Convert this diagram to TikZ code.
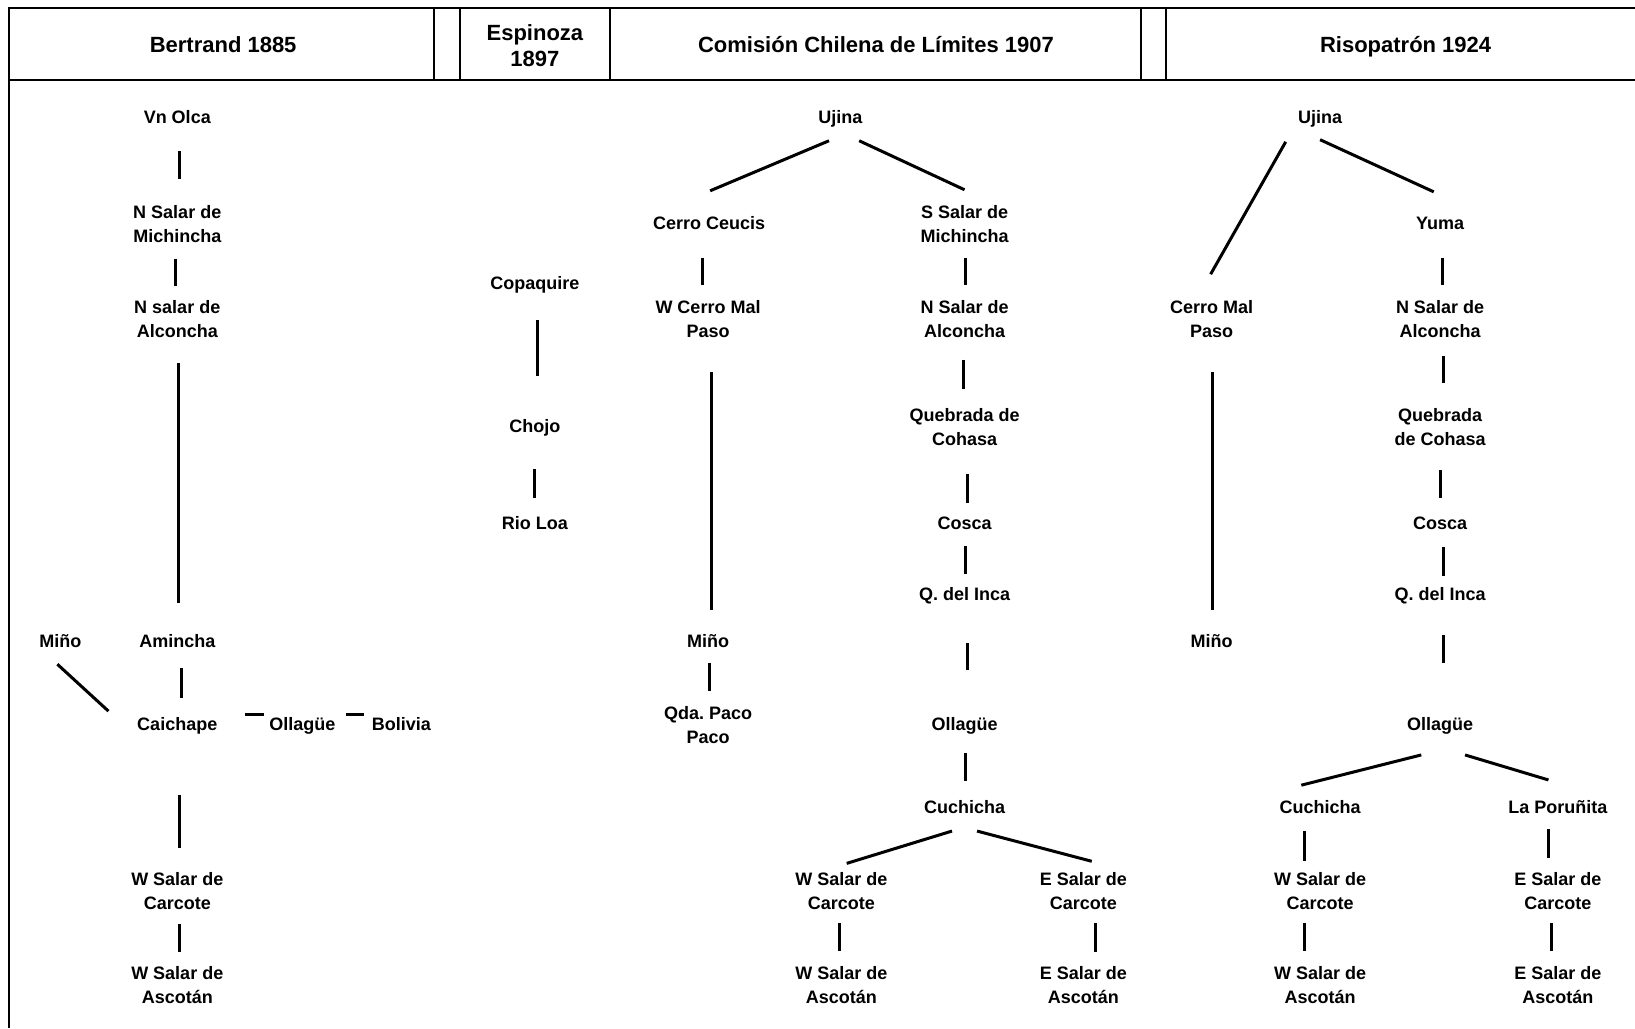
\documentclass[tikz,border=0pt]{standalone}
\usepackage{fontspec}
\setmainfont{Liberation Sans}
\usetikzlibrary{calc}
\frenchspacing

\tikzset{
  place/.style={font=\bfseries\fontsize{9}{12}\selectfont, align=center, inner sep=0pt},
  one/.style={place, text height=6.45pt, text depth=0pt},
  head/.style={font=\bfseries\fontsize{11}{13}\selectfont, align=center, inner sep=0pt},
  headone/.style={head, text height=7.9pt, text depth=0pt},
  link/.style={line width=1.5pt},
  frame/.style={line width=1pt}
}

\begin{document}
\begin{tikzpicture}[x=0.52136pt, y=-0.52136pt]
  \useasboundingbox (0,0) rectangle (1568,986);
  % frame and header
  \draw[frame] (1568,8) -- (9,8) -- (9,986);
  \draw[frame] (9,77) -- (1568,77);
  \foreach \xs in {416,441,585,1094,1118}
    \draw[frame] (\xs,8) -- (\xs,77);
  \node[headone] (hbert) at (214,43) {Bertrand 1885};
  \node[head] (hesp) at (513,44) {Espinoza\\1897};
  \node[headone] (hcom) at (840,43) {Comisión Chilena de Límites 1907};
  \node[headone] (hris) at (1348,43) {Risopatrón 1924};

  % Bertrand 1885
  \node[one] (bvn) at (170,112) {Vn Olca};
  \node[place] (bnmich) at (170,215) {N Salar de\\Michincha};
  \node[place] (bnalc) at (170,306) {N salar de\\Alconcha};
  \node[one] (bamin) at (170,615) {Amincha};
  \node[one] (bmino) at (58,615) {Miño};
  \node[one] (bcaich) at (170,694) {Caichape};
  \node[one] (boll) at (290,694) {Ollagüe};
  \node[one] (bbol) at (385,694) {Bolivia};
  \node[place] (bwcarc) at (170,855) {W Salar de\\Carcote};
  \node[place] (bwasc) at (170,945) {W Salar de\\Ascotán};
  \draw[link] ($(bvn)+(2,33)$) -- ($(bnmich)+(2,-43)$);
  \draw[link] ($(bnmich)+(-2,33)$) -- ($(bnalc)+(-2,-32)$);
  \draw[link] ($(bnalc)+(1,42)$) -- ($(bamin)+(1,-37)$);
  \draw[link] ($(bamin)+(4,26)$) -- ($(bcaich)+(4,-25)$);
  \draw[link] ($(bmino)+(-3,22)$) -- ($(bcaich)+(-66,-12)$);
  \draw[link] ($(bcaich)+(65,-9)$) -- ($(boll)+(-37,-9)$);
  \draw[link] ($(boll)+(42,-9)$) -- ($(bbol)+(-36,-9)$);
  \draw[link] ($(bcaich)+(2,68)$) -- ($(bwcarc)+(2,-42)$);
  \draw[link] ($(bwcarc)+(2,31)$) -- ($(bwasc)+(2,-32)$);

  % Espinoza 1897
  \node[one] (ecopa) at (513,271) {Copaquire};
  \node[one] (echojo) at (513,409) {Chojo};
  \node[one] (eloa) at (513,502) {Rio Loa};
  \draw[link] ($(ecopa)+(2,36)$) -- ($(echojo)+(2,-48)$);
  \draw[link] ($(echojo)+(0,41)$) -- ($(eloa)+(0,-24)$);

  % Comision Chilena de Limites 1907
  \node[one] (cujina) at (806,112) {Ujina};
  \node[one] (cceucis) at (680,214) {Cerro Ceucis};
  \node[place] (csmich) at (925,215) {S Salar de\\Michincha};
  \node[place] (cwcerro) at (679,306) {W Cerro Mal\\Paso};
  \node[place] (cnalc) at (925,306) {N Salar de\\Alconcha};
  \node[place] (cquebr) at (925,410) {Quebrada de\\Cohasa};
  \node[one] (ccosca) at (925,502) {Cosca};
  \node[one] (cinca) at (925,570) {Q. del Inca};
  \node[one] (cmino) at (679,615) {Miño};
  \node[place] (cqda) at (679,695) {Qda. Paco\\Paco};
  \node[one] (coll) at (925,694) {Ollagüe};
  \node[one] (ccuch) at (925,774) {Cuchicha};
  \node[place] (cwcarc) at (807,855) {W Salar de\\Carcote};
  \node[place] (cecarc) at (1039,855) {E Salar de\\Carcote};
  \node[place] (cwasc) at (807,945) {W Salar de\\Ascotán};
  \node[place] (ceasc) at (1039,945) {E Salar de\\Ascotán};
  \draw[link] ($(cujina)+(-11,23)$) -- ($(cceucis)+(1,-31)$);
  \draw[link] ($(cujina)+(18,23)$) -- ($(csmich)+(0,-33)$);
  \draw[link] ($(cceucis)+(-6,33)$) -- ($(cwcerro)+(-5,-33)$);
  \draw[link] ($(csmich)+(1,32)$) -- ($(cnalc)+(1,-33)$);
  \draw[link] ($(cwcerro)+(3,51)$) -- ($(cmino)+(3,-30)$);
  \draw[link] ($(cnalc)+(-1,39)$) -- ($(cquebr)+(-1,-37)$);
  \draw[link] ($(cquebr)+(3,45)$) -- ($(ccosca)+(3,-20)$);
  \draw[link] ($(ccosca)+(1,22)$) -- ($(cinca)+(1,-20)$);
  \draw[link] ($(cinca)+(3,47)$) -- ($(coll)+(3,-51)$);
  \draw[link] ($(cmino)+(1,21)$) -- ($(cqda)+(1,-32)$);
  \draw[link] ($(coll)+(1,28)$) -- ($(ccuch)+(1,-25)$);
  \draw[link] ($(ccuch)+(-12,23)$) -- ($(cwcarc)+(5,-27)$);
  \draw[link] ($(ccuch)+(12,23)$) -- ($(cecarc)+(8,-29)$);
  \draw[link] ($(cwcarc)+(-2,30)$) -- ($(cwasc)+(-2,-33)$);
  \draw[link] ($(cecarc)+(12,30)$) -- ($(ceasc)+(12,-32)$);

  % Risopatron 1924
  \node[one] (rujina) at (1266,112) {Ujina};
  \node[place] (rcerro) at (1162,306) {Cerro Mal\\Paso};
  \node[one] (ryuma) at (1381,214) {Yuma};
  \node[place] (rnalc) at (1381,306) {N Salar de\\Alconcha};
  \node[place] (rquebr) at (1381,410) {Quebrada\\de Cohasa};
  \node[one] (rcosca) at (1381,502) {Cosca};
  \node[one] (rinca) at (1381,570) {Q. del Inca};
  \node[one] (rmino) at (1162,615) {Miño};
  \node[one] (roll) at (1381,694) {Ollagüe};
  \node[one] (rcuch) at (1266,774) {Cuchicha};
  \node[one] (rporu) at (1494,774) {La Poruñita};
  \node[place] (rwcarc) at (1266,855) {W Salar de\\Carcote};
  \node[place] (recarc) at (1494,855) {E Salar de\\Carcote};
  \node[place] (rwasc) at (1266,945) {W Salar de\\Ascotán};
  \node[place] (reasc) at (1494,945) {E Salar de\\Ascotán};
  \draw[link] ($(rujina)+(-33,24)$) -- ($(rcerro)+(-1,-43)$);
  \draw[link] ($(rujina)+(0,22)$) -- ($(ryuma)+(-6,-30)$);
  \draw[link] ($(ryuma)+(2,33)$) -- ($(rnalc)+(2,-33)$);
  \draw[link] ($(rnalc)+(3,35)$) -- ($(rquebr)+(3,-43)$);
  \draw[link] ($(rquebr)+(0,41)$) -- ($(rcosca)+(0,-24)$);
  \draw[link] ($(rcosca)+(3,23)$) -- ($(rinca)+(3,-18)$);
  \draw[link] ($(rinca)+(3,39)$) -- ($(roll)+(3,-58)$);
  \draw[link] ($(rcerro)+(1,51)$) -- ($(rmino)+(1,-30)$);
  \draw[link] ($(roll)+(-18,30)$) -- ($(rcuch)+(-18,-21)$);
  \draw[link] ($(roll)+(24,30)$) -- ($(rporu)+(-9,-26)$);
  \draw[link] ($(rcuch)+(-15,23)$) -- ($(rwcarc)+(-15,-29)$);
  \draw[link] ($(rporu)+(-9,21)$) -- ($(recarc)+(-9,-32)$);
  \draw[link] ($(rwcarc)+(-15,30)$) -- ($(rwasc)+(-15,-33)$);
  \draw[link] ($(recarc)+(-6,30)$) -- ($(reasc)+(-6,-33)$);
\end{tikzpicture}
\end{document}
